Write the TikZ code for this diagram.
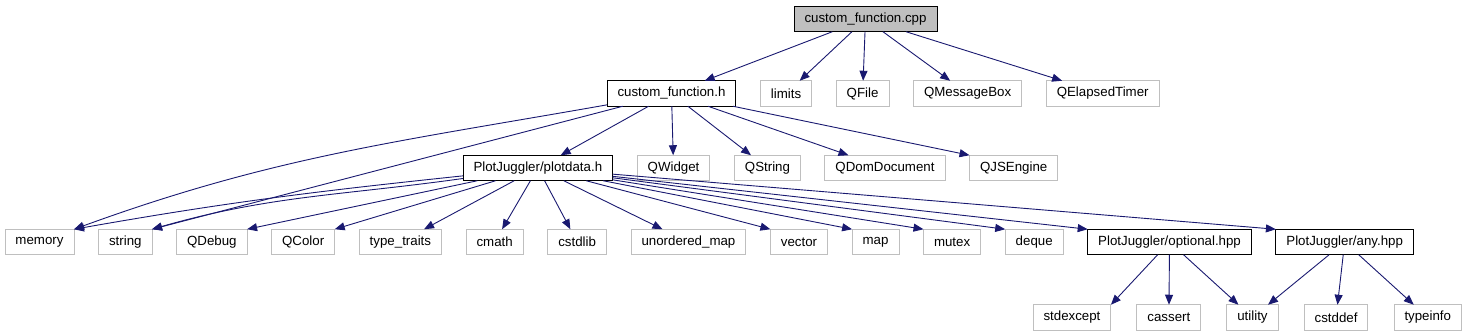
\documentclass[tikz,border=0pt]{standalone}
\usepackage{fontspec}
\setmainfont{Liberation Sans}
\usepackage{tikz}
\usetikzlibrary{positioning, arrows.meta}
\definecolor{edgeblue}{HTML}{191970}
\definecolor{boxgray}{HTML}{BFBFBF}
\begin{document}
\begin{tikzpicture}[
    x=1pt, y=-1pt,
    node distance=24.5pt,
    every node/.style={font=\fontsize{13.3}{16}\selectfont},
    box/.style={draw=black, line width=1pt, minimum height=25.5pt, inner xsep=10.5pt, inner ysep=0pt, outer sep=0pt},
    extbox/.style={box, draw=boxgray},
    rootbox/.style={box, fill=boxgray},
    arrow/.style={-{Triangle[length=10pt, width=8pt]}, draw=edgeblue, line width=0.9pt}
]
\useasboundingbox (0,0) rectangle (1471,336);
\node[rootbox] (cpp) at (865.5,19) {custom\_function.cpp};
\node[box, anchor=west] (cfh) at (607,93.5) {custom\_function.h};
\node[extbox, right=of cfh] (limits) {limits};
\node[extbox, right=of limits] (qfile) {QFile};
\node[extbox, right=of qfile] (qmsg) {QMessageBox};
\node[extbox, right=of qmsg] (qtimer) {QElapsedTimer};
\node[box, anchor=west] (pd) at (463,168) {PlotJuggler/plotdata.h};
\node[extbox, right=of pd] (qwidget) {QWidget};
\node[extbox, right=of qwidget] (qstring) {QString};
\node[extbox, right=of qstring] (qdom) {QDomDocument};
\node[extbox, right=of qdom] (qjs) {QJSEngine};
\node[extbox, anchor=west] (mem) at (5,242) {memory};
\node[extbox, right=of mem] (str) {string};
\node[extbox, right=of str] (qdebug) {QDebug};
\node[extbox, right=of qdebug] (qcolor) {QColor};
\node[extbox, right=of qcolor] (typetr) {type\_traits};
\node[extbox, right=of typetr] (cmath) {cmath};
\node[extbox, right=of cmath] (cstdlib) {cstdlib};
\node[extbox, right=of cstdlib] (umap) {unordered\_map};
\node[extbox, right=of umap] (vec) {vector};
\node[extbox, right=of vec] (map) {map};
\node[extbox, right=of map] (mutex) {mutex};
\node[extbox, right=of mutex] (deque) {deque};
\node[box, right=of deque] (opt) {PlotJuggler/optional.hpp};
\node[box, right=of opt] (any) {PlotJuggler/any.hpp};
\node[extbox, anchor=west] (stdexc) at (1033,317.5) {stdexcept};
\node[extbox, right=26pt of stdexc] (cassert) {cassert};
\node[extbox, right=26pt of cassert] (utility) {utility};
\node[extbox, right=26pt of utility] (cstddef) {cstddef};
\node[extbox, right=26pt of cstddef] (typeinfo) {typeinfo};
\draw[arrow] (cpp) -- (cfh);
\draw[arrow] (cpp) -- (limits);
\draw[arrow] (cpp) -- (qfile);
\draw[arrow] (cpp) -- (qmsg);
\draw[arrow] (cpp) -- (qtimer);
\draw[arrow] (cfh) to[out=190, in=20] (mem.north east);
\draw[arrow] (cfh) -- (str.north east);
\draw[arrow] (cfh) -- (pd);
\draw[arrow] (cfh) -- (qwidget);
\draw[arrow] (cfh) -- (qstring);
\draw[arrow] (cfh) -- (qdom);
\draw[arrow] (cfh) -- (qjs.north west);
\draw[arrow] (pd) to[out=186, in=10] (mem.north east);
\draw[arrow] (pd) to[out=188, in=16] (str.north east);
\draw[arrow] (pd) -- (qdebug.north east);
\draw[arrow] (pd) -- (qcolor.north east);
\draw[arrow] (pd) -- (typetr);
\draw[arrow] (pd) -- (cmath);
\draw[arrow] (pd) -- (cstdlib);
\draw[arrow] (pd) -- (umap);
\draw[arrow] (pd) -- (vec.north west);
\draw[arrow] (pd) -- (map.north west);
\draw[arrow] (pd) -- (mutex.north west);
\draw[arrow] (pd) -- (deque.north west);
\draw[arrow] (pd) -- (opt.north west);
\draw[arrow] (pd) -- (any.north west);
\draw[arrow] (opt) -- (stdexc.north east);
\draw[arrow] (opt) -- (cassert);
\draw[arrow] (opt) -- (utility);
\draw[arrow] (any) -- (utility);
\draw[arrow] (any) -- (cstddef);
\draw[arrow] (any) -- (typeinfo);
\end{tikzpicture}
\end{document}
